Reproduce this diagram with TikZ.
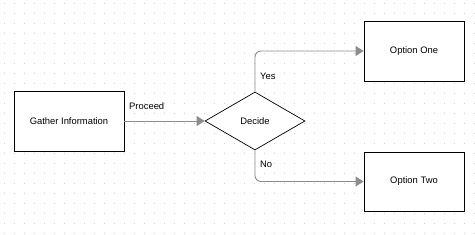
\documentclass[tikz,border=0pt]{standalone}
\usepackage{fontspec}
\setmainfont{Liberation Sans}
\usetikzlibrary{shapes.geometric,arrows.meta}
\begin{document}
\begin{tikzpicture}[x=1pt,y=-1pt,
  font=\fontsize{9.4}{11}\selectfont,
  box/.style={draw=black,line width=0.9pt,fill=white,minimum width=110pt,minimum height=60pt,inner sep=0pt},
  dec/.style={draw=black,line width=0.7pt,fill=white,diamond,minimum width=100pt,minimum height=58pt,inner sep=0pt,shape aspect=1.72},
  conn/.style={draw=gray!90,line width=0.9pt,-{Triangle[length=8pt,width=10pt]},rounded corners=6pt},
  lbl/.style={inner sep=0pt}]
\useasboundingbox (0,0) rectangle (475,235);
\fill[white] (0,0) rectangle (475,235);
\foreach \i in {0,...,47}{
  \foreach \j in {0,...,23}{
    \fill[gray!45] (4.5+10*\i,3.5+10*\j) circle (0.5pt);
  }
}
\node[box] (g) at (69,121) {Gather Information};
\node[box,minimum width=100pt] (o1) at (414,51) {Option One};
\node[box,minimum width=100pt,minimum height=59pt] (o2) at (414,181.5) {Option Two};
\node[dec] (d) at (255,121) {Decide};
\draw[conn] (g.east) -- (d.west);
\draw[conn] (d.north) |- (o1.west);
\draw[conn] (d.south) |- (o2.west);
\node[lbl,anchor=west] (lp) at (129,106) {Proceed};
\node[lbl,anchor=west] (ly) at (260,76) {Yes};
\node[lbl,anchor=west] (ln) at (260,164) {No};
\end{tikzpicture}
\end{document}
